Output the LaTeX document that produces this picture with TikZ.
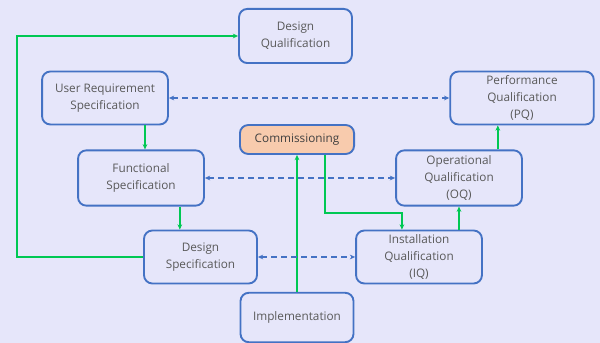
\documentclass[tikz,border=0pt]{standalone}
\usepackage{fontspec}
\setmainfont{Open Sans}
\usetikzlibrary{arrows.meta,positioning}
\definecolor{boxblue}{RGB}{68,114,196}
\definecolor{flowgreen}{RGB}{0,200,83}
\definecolor{bgpaper}{RGB}{230,230,250}
\definecolor{commfill}{RGB}{248,203,173}
\definecolor{txtgray}{RGB}{89,89,89}

\begin{document}
\begin{tikzpicture}[x=0.85pt,y=-0.85pt,
  stage/.style={draw=boxblue,line width=1.6pt,rounded corners=7pt,fill=bgpaper,
                align=center,text=txtgray,font=\fontsize{10}{14.5}\selectfont,
                inner sep=2pt},
  comm/.style={stage,fill=commfill,text=black!75},
  flow/.style={-{Stealth[length=4.5pt,width=4pt]},draw=flowgreen,line width=1.8pt},
  link/.style={{Stealth[length=4.5pt,width=4pt]}-{Stealth[length=4.5pt,width=4pt]},
               draw=boxblue,line width=1.6pt,dash pattern=on 5pt off 3.5pt}
]
  \fill[bgpaper] (0,0) rectangle (600,343);
  \useasboundingbox (0,0) rectangle (600,343);

  % Specification side
  \node[stage,minimum width=96pt,minimum height=46pt]  (dq)  at (295.5,36)  {Design\\Qualification};
  \node[stage,minimum width=107pt,minimum height=45pt] (urs) at (105,98)    {User Requirement\\Specification};
  \node[stage,minimum width=107pt,minimum height=47pt] (fs)  at (141,178)   {Functional\\Specification};
  \node[stage,minimum width=96pt,minimum height=45pt]  (ds)  at (200.5,257) {Design\\Specification};

  % Qualification side
  \node[stage,minimum width=122pt,minimum height=45pt] (pq)  at (522,98)    {Performance\\Qualification\\(PQ)};
  \node[stage,minimum width=107pt,minimum height=47pt] (oq)  at (459,178)   {Operational\\Qualification\\(OQ)};
  \node[stage,minimum width=107pt,minimum height=45pt] (iq)  at (419,257)   {Installation\\Qualification\\(IQ)};

  % Middle
  \node[comm,minimum width=97pt,minimum height=24.6pt] (comm) at (297,139.5) {Commissioning};
  \node[stage,minimum width=96pt,minimum height=42pt]  (impl) at (297,317.5) {Implementation};

  % Green flows
  \draw[flow] (ds.west) -- ++(-126,0) |- (dq.west);
  \draw[flow] ([xshift=34pt]urs.south) -- ([xshift=34pt]urs.south |- fs.north);
  \draw[flow] ([xshift=33pt]fs.south) -- ([xshift=33pt]fs.south |- ds.north);
  \draw[flow] (iq.north -| oq.south) -- (oq.south);
  \draw[flow] ([xshift=33pt]oq.north) -- ([xshift=33pt]oq.north |- pq.south);
  \draw[flow] (impl.north) -- (impl.north |- comm.south);
  \draw[flow] ([xshift=24pt]comm.south) -- ++(0,57.7) -| ([xshift=-14.5pt]iq.north);

  % Dashed links
  \draw[link] (urs.east) -- (pq.west);
  \draw[link] (fs.east) -- (oq.west);
  \draw[link] (ds.east) -- (iq.west);
\end{tikzpicture}
\end{document}
